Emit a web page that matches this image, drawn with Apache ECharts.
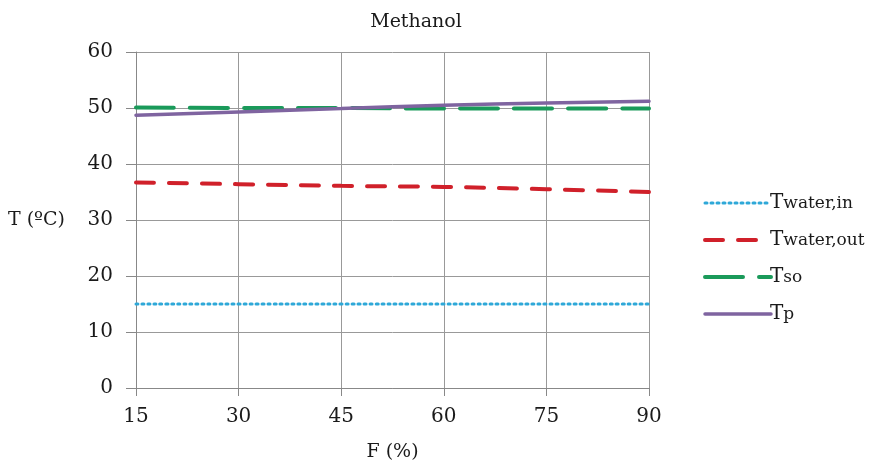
<!DOCTYPE html>
<html><head><meta charset="utf-8">
<script src="https://cdn.jsdelivr.net/npm/echarts@6/dist/echarts.min.js"></script>
<style>html,body{margin:0;padding:0;background:#fff}#c{width:875px;height:468px}</style>
</head><body><div id="c"></div>
<script>
const F = [15, 30, 45, 60, 75, 90];
const TwaterIn = [15, 15, 15, 15, 15, 15];
const TwaterOut = [36.7, 36.4, 36.1, 35.9, 35.5, 35.0];
const Tso = [50.1, 50.0, 50.0, 49.9, 49.9, 49.9];
const Tp = [48.7, 49.3, 49.9, 50.5, 50.9, 51.2];
const xTicks = [15, 30, 45, 60, 75, 90];
const yTicks = [0, 10, 20, 30, 40, 50, 60];

const font = "'DejaVu Serif','Liberation Serif',serif";
const chart = echarts.init(document.getElementById('c'));
const mk = (arr) => F.map((f, i) => [f, arr[i]]);
const seriesDefs = [
  {name: 'Twater,in', data: TwaterIn, color: '#2ea8d8', type: [2, 4], w: 3},
  {name: 'Twater,out', data: TwaterOut, color: '#d0202a', type: [18, 15], w: 4},
  {name: 'Tso', data: Tso, color: '#1a9a5a', type: [38, 16], w: 4},
  {name: 'Tp', data: Tp, color: '#7f64a0', type: 'solid', w: 3.5}
];
chart.setOption({
  animation: false,
  title: {text: 'Methanol', left: 411, top: 8, textAlign: 'center',
    textStyle: {fontFamily: font, fontSize: 19, fontWeight: 'normal', color: '#1a1a1a'}},
  grid: {left: 136, right: 226, top: 52, bottom: 80, containLabel: false, outerBoundsMode: 'none'},
  legend: {
    orient: 'vertical', left: 698, top: 188, itemGap: 17, itemWidth: 66, itemHeight: 22,
    itemStyle: {opacity: 0},
    data: seriesDefs.map(s => ({name: s.name, lineStyle: {width: s.w, color: s.color, type: s.type}})),
    formatter: n => '{a|T}{b|' + n.slice(1) + '}',
    textStyle: {padding: [0,0,0,-6], rich: {
      a: {fontFamily: font, fontSize: 20, color: '#1a1a1a'},
      b: {fontFamily: font, fontSize: 17, color: '#1a1a1a', padding: [0,0,-2,0]}
    }}
  },
  xAxis: {
    type: 'value', min: 15, max: 90, interval: 15,
    name: 'F (%)', nameLocation: 'middle', nameGap: 55,
    nameTextStyle: {fontFamily: font, fontSize: 19, color: '#1a1a1a'},
    axisLine: {lineStyle: {color: '#888'}},
    axisTick: {show: true, length: 8, lineStyle: {color: '#888'}},
    axisLabel: {fontFamily: font, fontSize: 20, color: '#1a1a1a', margin: 19,
      customValues: xTicks},
    splitLine: {show: true, lineStyle: {color: '#999', width: 1}}
  },
  yAxis: {
    type: 'value', min: 0, max: 60, interval: 10,
    name: 'T (ºC)', nameLocation: 'middle', nameRotate: 0, nameGap: 71,
    nameTextStyle: {fontFamily: font, fontSize: 19, color: '#1a1a1a'},
    axisLine: {show: true, lineStyle: {color: '#888'}},
    axisTick: {show: true, length: 10, lineStyle: {color: '#888'}},
    axisLabel: {fontFamily: font, fontSize: 20, color: '#1a1a1a', margin: 23,
      customValues: yTicks},
    splitLine: {show: true, lineStyle: {color: '#999', width: 1}}
  },
  series: seriesDefs.map(s => ({
    name: s.name, type: 'line', data: mk(s.data), symbol: 'none', smooth: true,
    color: s.color,
    lineStyle: {color: s.color, width: s.w, type: s.type, cap: 'round'}
  }))
});
</script></body></html>
